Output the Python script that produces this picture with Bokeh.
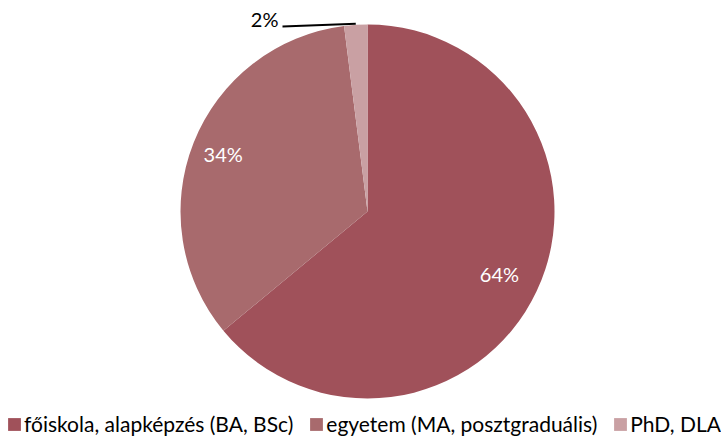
import math
from bokeh.plotting import figure
from bokeh.models import Range1d, Legend, LegendItem, ColumnDataSource, Label
from bokeh.embed import file_html
from bokeh.resources import INLINE

categories = ["főiskola, alapképzés (BA, BSc)", "egyetem (MA, posztgraduális)", "PhD, DLA"]
values = [64, 34, 2]
labels = ["64%", "34%", "2%"]
colors = ["#A0515A", "#A86A6D", "#C9A0A3"]

W, H = 721, 436
cx, cy, R = 367, 225, 187   # frame coords (y up)

total = sum(values)
starts, ends, mids = [], [], []
a = math.pi / 2
for v in values:
    e = a - 2 * math.pi * v / total
    starts.append(a); ends.append(e); mids.append((a + e) / 2)
    a = e

src = ColumnDataSource(dict(x=[cx] * 3, y=[cy] * 3, start=starts, end=ends,
                            color=colors, cat=categories))

p = figure(width=W, height=H, output_backend="svg", toolbar_location=None,
           x_range=Range1d(0, W), y_range=Range1d(0, H), min_border=0)
p.axis.visible = False
p.grid.visible = False
p.outline_line_color = None

r = p.wedge(x="x", y="y", radius=R, start_angle="start", end_angle="end",
            direction="clock", fill_color="color", line_color=None, source=src)

# inside labels
for i, frac in [(0, 0.78), (1, 0.83)]:
    lx = cx + frac * R * math.cos(mids[i])
    ly = cy + frac * R * math.sin(mids[i])
    p.add_layout(Label(x=lx, y=ly, text=labels[i], text_align="center",
                       text_baseline="middle", text_color="white",
                       text_font="Lato", text_font_size="20px"))

# outside label for small slice with leader line
ex = cx + R * math.cos(mids[2])
ey = cy + R * math.sin(mids[2]) + 1
p.line(x=[282, ex], y=[410, ey], line_color="black", line_width=2)
p.add_layout(Label(x=278, y=418, text=labels[2], text_align="right",
                   text_baseline="middle", text_color="black",
                   text_font="Lato", text_font_size="20px"))

items = [LegendItem(label=categories[i], renderers=[r], index=i) for i in range(3)]
legend = Legend(items=items, orientation="horizontal", location=(6, 0),
                glyph_width=16, glyph_height=16, label_standoff=2, spacing=15,
                padding=0, margin=0, border_line_color=None,
                background_fill_alpha=0, label_text_font="Lato",
                label_text_font_size="21px", label_text_color="#000000")
p.add_layout(legend, "center")

open("out.html", "w").write(file_html(p, INLINE))
